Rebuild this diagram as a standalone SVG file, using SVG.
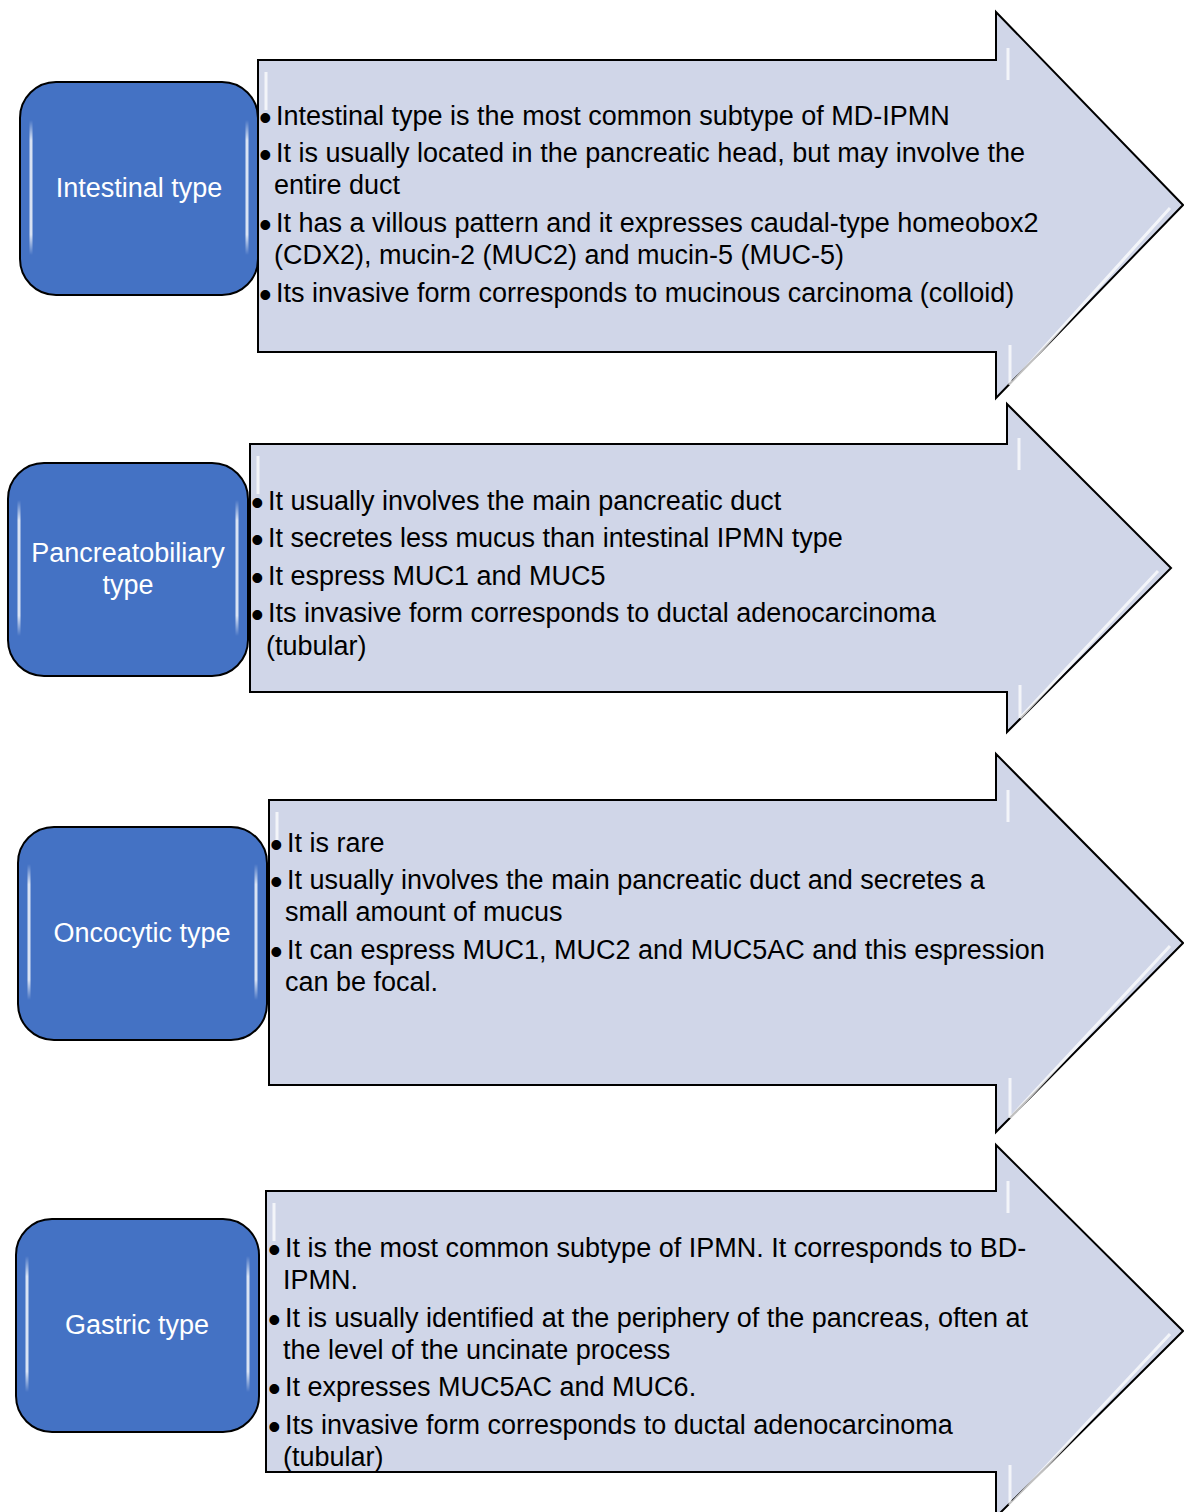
<svg xmlns="http://www.w3.org/2000/svg" width="1184" height="1512" viewBox="0 0 1184 1512">
<defs>
<style>
.arrow{fill:#D0D6E8;stroke:#000;stroke-width:2;stroke-linejoin:miter}
.box{fill:#4472C4;stroke:#000;stroke-width:2}
.hl{stroke:url(#hlg);stroke-width:3;fill:none;stroke-linecap:round}
.ahl{stroke:#FFFFFF;stroke-opacity:0.75;stroke-width:3;fill:none}
.lbl{font-family:"Liberation Sans",Arial,sans-serif;font-size:27px;fill:#FFFFFF;text-anchor:middle}
.txt{font-family:"Liberation Sans",Arial,sans-serif;font-size:27px;fill:#000000}
.b{font-size:36px}
</style>
<linearGradient id="hlg" x1="0" y1="0" x2="0" y2="1">
<stop offset="0" stop-color="#FFFFFF" stop-opacity="0"/>
<stop offset="0.15" stop-color="#FFFFFF" stop-opacity="0.8"/>
<stop offset="0.85" stop-color="#FFFFFF" stop-opacity="0.8"/>
<stop offset="1" stop-color="#FFFFFF" stop-opacity="0"/>
</linearGradient>
</defs>

<g id="arrow1">
<path class="arrow" d="M258,60 H996 V12 L1183,205 L996,398 V352 H258 Z"/>
<path class="ahl" d="M1008,48 V80 M1010,385 V345 M1010,385 L1170,208 M266,72 V110"/>
<text class="txt"><tspan class="b" x="259" y="130">•</tspan><tspan x="276" y="125">Intestinal type is the most common subtype of MD-IPMN</tspan></text>
<text class="txt"><tspan class="b" x="259" y="167">•</tspan><tspan x="276" y="162">It is usually located in the pancreatic head, but may involve the</tspan></text>
<text class="txt" x="274" y="194">entire duct</text>
<text class="txt"><tspan class="b" x="259" y="237">•</tspan><tspan x="276" y="232">It has a villous pattern and it expresses caudal-type homeobox2</tspan></text>
<text class="txt" x="274" y="264">(CDX2), mucin-2 (MUC2) and mucin-5 (MUC-5)</text>
<text class="txt"><tspan class="b" x="259" y="307">•</tspan><tspan x="276" y="302">Its invasive form corresponds to mucinous carcinoma (colloid)</tspan></text>
</g>

<g id="arrow2">
<path class="arrow" d="M250,444 H1007 V404 L1171,568 L1007,732 V692 H250 Z"/>
<path class="ahl" d="M1019,438 V470 M1020,718 V685 M1020,718 L1158,571 M258,456 V494"/>
<text class="txt"><tspan class="b" x="251" y="515">•</tspan><tspan x="268" y="510">It usually  involves the main pancreatic duct</tspan></text>
<text class="txt"><tspan class="b" x="251" y="552">•</tspan><tspan x="268" y="547">It secretes less mucus than intestinal IPMN type</tspan></text>
<text class="txt"><tspan class="b" x="251" y="590">•</tspan><tspan x="268" y="585">It espress MUC1 and MUC5</tspan></text>
<text class="txt"><tspan class="b" x="251" y="627">•</tspan><tspan x="268" y="622">Its invasive form corresponds to ductal adenocarcinoma</tspan></text>
<text class="txt" x="266" y="655">(tubular)</text>
</g>

<g id="arrow3">
<path class="arrow" d="M269,800 H996 V754 L1183,943 L996,1132 V1085 H269 Z"/>
<path class="ahl" d="M1008,790 V822 M1010,1118 V1078 M1010,1118 L1170,946 M277,812 V850"/>
<text class="txt"><tspan class="b" x="270" y="857">•</tspan><tspan x="287" y="852">It is rare</tspan></text>
<text class="txt"><tspan class="b" x="270" y="894">•</tspan><tspan x="287" y="889">It usually involves the main pancreatic duct and secretes a</tspan></text>
<text class="txt" x="285" y="921">small amount of mucus</text>
<text class="txt"><tspan class="b" x="270" y="964">•</tspan><tspan x="287" y="959">It can espress MUC1, MUC2 and MUC5AC and this espression</tspan></text>
<text class="txt" x="285" y="991">can be focal.</text>
</g>

<g id="arrow4">
<path class="arrow" d="M266,1191 H996 V1145 L1183,1331 L996,1517 V1472 H266 Z"/>
<path class="ahl" d="M1008,1181 V1213 M1010,1505 V1465 M1010,1505 L1170,1334 M274,1203 V1241"/>
<text class="txt"><tspan class="b" x="268" y="1262">•</tspan><tspan x="285" y="1257">It is the most common subtype of IPMN. It corresponds to BD-</tspan></text>
<text class="txt" x="283" y="1289">IPMN.</text>
<text class="txt"><tspan class="b" x="268" y="1332">•</tspan><tspan x="285" y="1327">It is usually identified at the periphery of the pancreas, often at</tspan></text>
<text class="txt" x="283" y="1359">the level of the uncinate process</text>
<text class="txt"><tspan class="b" x="268" y="1401">•</tspan><tspan x="285" y="1396">It expresses  MUC5AC and MUC6.</tspan></text>
<text class="txt"><tspan class="b" x="268" y="1439">•</tspan><tspan x="285" y="1434">Its invasive form corresponds to ductal adenocarcinoma</tspan></text>
<text class="txt" x="283" y="1466">(tubular)</text>
</g>

<g id="node1">
<rect class="box" x="20" y="82" width="238" height="213" rx="36" ry="36"/>
<path class="hl" d="M31,120 V255 M247,120 V255"/>
<text class="lbl" x="139" y="197">Intestinal type</text>
</g>

<g id="node2">
<rect class="box" x="8" y="463" width="240" height="213" rx="36" ry="36"/>
<path class="hl" d="M19,500 V636 M237,500 V636"/>
<text class="lbl" x="128" y="562">Pancreatobiliary</text>
<text class="lbl" x="128" y="594">type</text>
</g>

<g id="node3">
<rect class="box" x="18" y="827" width="249" height="213" rx="36" ry="36"/>
<path class="hl" d="M29,864 V1000 M256,864 V1000"/>
<text class="lbl" x="142" y="942">Oncocytic type</text>
</g>

<g id="node4">
<rect class="box" x="16" y="1219" width="243" height="213" rx="36" ry="36"/>
<path class="hl" d="M27,1256 V1392 M248,1256 V1392"/>
<text class="lbl" x="137" y="1334">Gastric type</text>
</g>
</svg>
